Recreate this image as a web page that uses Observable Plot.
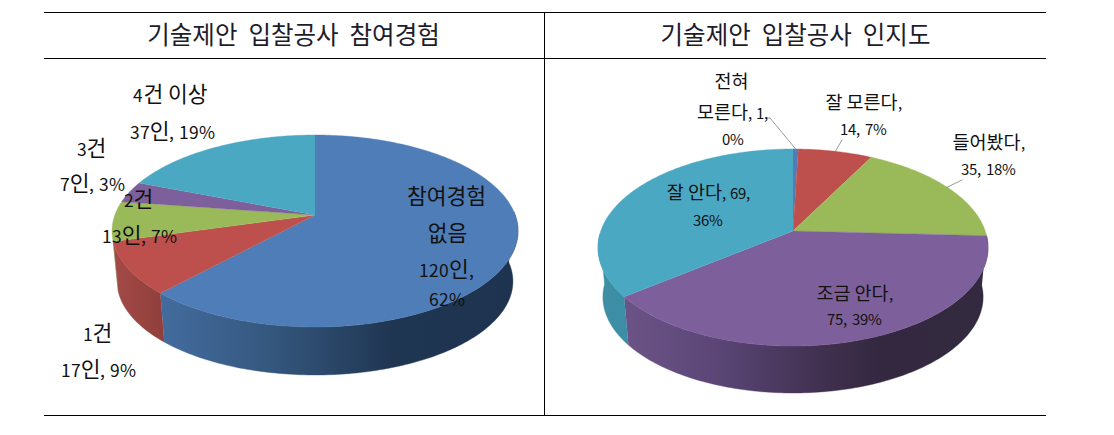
<!DOCTYPE html>
<html>
<head>
<meta charset="utf-8">
<script src="https://cdn.jsdelivr.net/npm/d3@7"></script>
<script src="https://cdn.jsdelivr.net/npm/@observablehq/plot@0.6"></script>
<style>
@font-face{
  font-family:"MixDigits";
  src:local("Noto Sans CJK KR"),local("Noto Sans CJK KR Regular"),local("NotoSansCJKkr-Regular");
  size-adjust:81%;
  unicode-range:U+0021-007E;
}
html,body{margin:0;padding:0;background:#fff}
svg text{white-space:pre}
</style>
</head>
<body>
<div id="chart"></div>
<script>
// Data
const titles = ["기술제안  입찰공사  참여경험", "기술제안  입찰공사  인지도"];
const participationNames = ["참여경험 없음", "1건", "2건", "3건", "4건 이상"];
const participationCounts = [120, 17, 13, 7, 37];
const participationLabelLines = [
  ["참여경험", "없음", "120인,", "62%"],
  ["1건", "17인, 9%"],
  ["2건", "13인, 7%"],
  ["3건", "7인, 3%"],
  ["4건 이상", "37인, 19%"]
];
const awarenessNames = ["전혀 모른다", "잘 모른다", "들어봤다", "조금 안다", "잘 안다"];
const awarenessCounts = [1, 14, 35, 75, 69];
const awarenessLabelLines = [
  ["전혀", "모른다, 1,", "0%"],
  ["잘 모른다,", "14, 7%"],
  ["들어봤다,", "35, 18%"],
  ["조금 안다,", "75, 39%"],
  ["잘 안다, 69,", "36%"]
];

// Styles
const topColors = ["#4f7db8", "#bd504d", "#9aba59", "#7d609b", "#4aa8c2"];
const gradients = [
  ["gBlue", [[0, "#436c9e"], [0.3, "#35587f"], [0.65, "#1f3652"], [1, "#1d3350"]]],
  ["gRed", [[0, "#a44a47"], [1, "#8f3f3c"]]],
  ["gGreen", [[0, "#7d9748"], [1, "#6f8740"]]],
  ["gPurple", [[0, "#6c5387"], [0.25, "#5b4677"], [0.55, "#40304f"], [0.72, "#33283f"], [1, "#332a40"]]],
  ["gTeal", [[0, "#3f8ea5"], [1, "#3b8ea6"]]]
];
const sideFills = gradients.map(g => `url(#${g[0]})`);
const fontFamily = '"MixDigits", "Noto Sans CJK KR", "Noto Sans", sans-serif';

// Layout (visible side range in degrees)
const leftPie  = {cx: 314.5, apexY: 214.5, topY: 134.5, bottomY: 326.5, rx: 203, depth: 48, sideFrom: 88, sideTo: 254.3};
const rightPie = {cx: 792.5, apexY: 230.5, topY: 148.5, bottomY: 345.5, rx: 195, depth: 47, sideFrom: 93, sideTo: 268};
const leftLabelAt = [
  [[446,197],[447,234],[446,270],[446,299]],
  [[97,334],[98,370]],
  [[138,200],[139,236]],
  [[91,149],[92,184]],
  [[170,95],[172,132]]
];
const rightLabelAt = [
  [[731,82],[732,113],[732,139]],
  [[863,103],[863,129]],
  [[988,143],[988,169]],
  [[854,294],[854,319]],
  [[708,193],[707,220]]
];
const leaderEnds = [[[769.5,117.5],[766.5,117.5]], [[841.5,139.5]], [[961.5,179.5]]];

// Perspective projection of a tilted disc: angle on the circle -> picture position
function projector(p) {
  const q = (p.topY + p.bottomY) / 2, ry = (p.bottomY - p.topY) / 2;
  const pers = (2 * p.apexY - p.topY - p.bottomY) / (p.topY - p.bottomY);
  const A = p.topY + p.topY * pers - p.apexY;
  const C = p.rx * Math.sqrt(1 - pers * pers);
  const shrink = 0.975;
  const top = a => {
    const X = Math.sin(a), Y = Math.cos(a), w = 1 + pers * Y;
    return [p.cx + C * X / w, (A * Y + p.apexY) / w];
  };
  const base = a => {
    const [x, y] = top(a);
    return [p.cx + shrink * (x - p.cx), q + shrink * (y - q) + (p.bottomY + p.depth - q - shrink * ry)];
  };
  return {top, base};
}

const arcAngles = (a0, a1) => {
  const n = Math.max(2, Math.ceil((a1 - a0) / (Math.PI / 180)));
  return d3.range(n + 1).map(i => a0 + (a1 - a0) * i / n);
};

function sliceGeometry(counts, p) {
  const proj = projector(p);
  const total = d3.sum(counts);
  const from = p.sideFrom * Math.PI / 180, to = p.sideTo * Math.PI / 180;
  let cum = 0;
  return counts.map(v => {
    const a0 = cum / total * 2 * Math.PI;
    cum += v;
    const a1 = cum / total * 2 * Math.PI;
    const face = [[p.cx, p.apexY], ...arcAngles(a0, a1).map(proj.top)];
    const s0 = Math.max(a0, from), s1 = Math.min(a1, to);
    let side = null;
    if (s1 > s0) {
      const as = arcAngles(s0, s1);
      side = [...as.map(proj.top), ...as.slice().reverse().map(proj.base)];
    }
    return {face, side, mid: proj.top((a0 + a1) / 2)};
  });
}

const leftSlices = sliceGeometry(participationCounts, leftPie);
const rightSlices = sliceGeometry(awarenessCounts, rightPie);

const poly = (pts, fill) => Plot.line(pts, {
  x: d => d[0], y: d => d[1], fill, stroke: fill, strokeWidth: 0.4, curve: "linear"
});

function gradientDefs() {
  const svgNS = "http://www.w3.org/2000/svg";
  const defs = document.createElementNS(svgNS, "defs");
  for (const [id, stops] of gradients) {
    const g = document.createElementNS(svgNS, "linearGradient");
    g.setAttribute("id", id);
    g.setAttribute("x1", "0"); g.setAttribute("x2", "1");
    g.setAttribute("y1", "0"); g.setAttribute("y2", "0");
    for (const [o, c] of stops) {
      const s = document.createElementNS(svgNS, "stop");
      s.setAttribute("offset", o);
      s.setAttribute("stop-color", c);
      g.appendChild(s);
    }
    defs.appendChild(g);
  }
  return defs;
}

function labelRows(lines, at) {
  return lines.flatMap((ls, i) => ls.map((t, j) => ({t, x: at[i][j][0], y: at[i][j][1]})));
}

const leaders = leaderEnds.map((ends, i) => [rightSlices[i].mid, ...ends]);
const sidePolys = slices => slices.flatMap((s, i) => s.side ? [poly(s.side, sideFills[i])] : []);

const marks = [
  gradientDefs,
  Plot.ruleY([12, 58, 415], {x1: 44, x2: 1046, stroke: "#000", strokeWidth: 1}),
  Plot.ruleX([544], {y1: 12, y2: 415, stroke: "#000", strokeWidth: 1}),
  Plot.text(titles, {
    x: (d, i) => [293, 795][i], y: 36, text: d => d,
    fontSize: 24.5, fill: "#1c1c2c", fontFamily, textAnchor: "middle", lineAnchor: "middle"
  }),
  ...sidePolys(leftSlices),
  ...sidePolys(rightSlices),
  ...leftSlices.map((s, i) => poly(s.face, topColors[i])),
  ...rightSlices.map((s, i) => poly(s.face, topColors[i])),
  ...leaders.map(l => Plot.line(l, {x: d => d[0], y: d => d[1], stroke: "#808080", strokeWidth: 0.8})),
  Plot.text(labelRows(participationLabelLines, leftLabelAt), {
    x: "x", y: "y", text: "t", fontSize: 21.5, fill: "#111", fontFamily, lineAnchor: "middle"
  }),
  Plot.text(labelRows(awarenessLabelLines, rightLabelAt), {
    x: "x", y: "y", text: "t", fontSize: 18.5, fill: "#111", fontFamily, lineAnchor: "middle"
  })
];

const chart = Plot.plot({
  width: 1114, height: 435, margin: 0,
  x: {domain: [0, 1114], range: [0, 1114], axis: null},
  y: {domain: [0, 435], range: [0, 435], axis: null},
  style: {background: "#fff", fontFamily},
  marks
});
document.getElementById("chart").appendChild(chart);
</script>
</body>
</html>
